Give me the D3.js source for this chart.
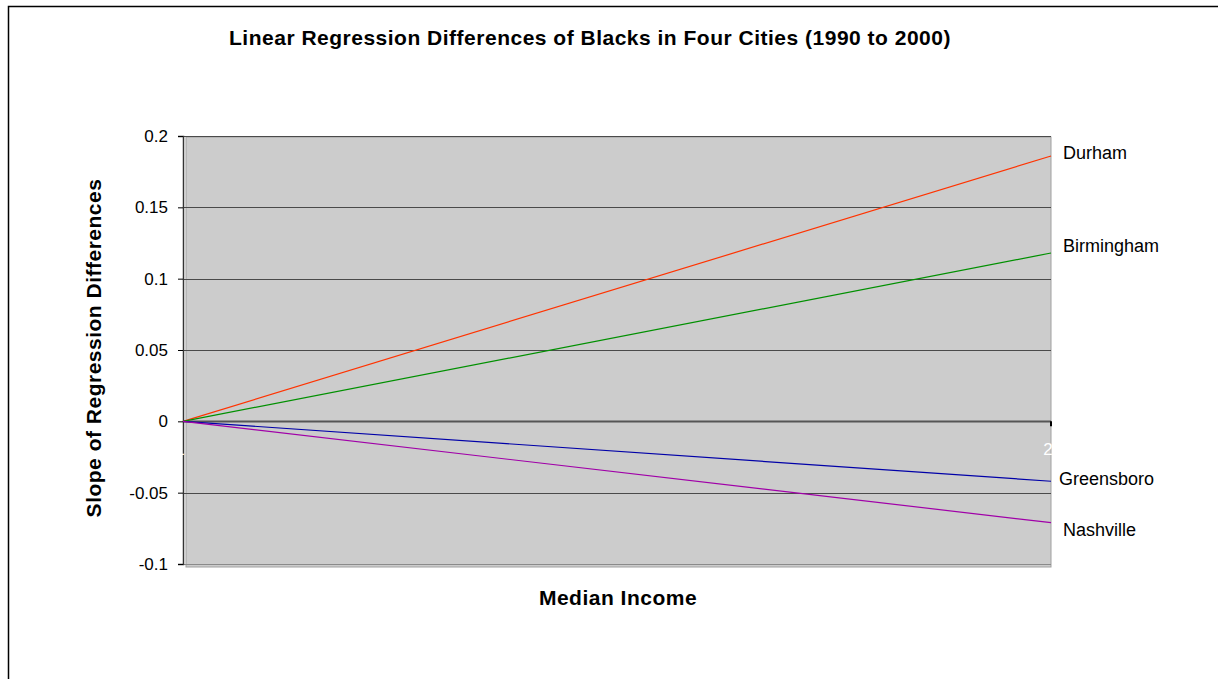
<!DOCTYPE html>
<html>
<head>
<meta charset="UTF-8">
<title>Linear Regression Differences</title>
<script src="https://d3js.org/d3.v7.min.js"></script>
<style>
  body { margin: 0; background: #fff; }
  text { font-family: "Liberation Sans", Arial, sans-serif; }
</style>
</head>
<body>
<div id="chart"></div>
<script>
// data
var years = [1, 2];
var cities = ["Durham", "Birmingham", "Greensboro", "Nashville"];
var slopes = [0.186, 0.118, -0.042, -0.071];
var colors = ["#ff3300", "#009000", "#0000a8", "#a000a8"];
var yTicks = [-0.1, -0.05, 0, 0.05, 0.1, 0.15, 0.2];

var W = 1218, H = 679;
var margin = {top: 136, right: 167, bottom: 115, left: 183};
var width = W - margin.left - margin.right,
    height = H - margin.top - margin.bottom;

var svg = d3.select("#chart").append("svg")
    .attr("width", W)
    .attr("height", H);

// outer frame (left and top edges only visible)
svg.append("path")
    .attr("d", "M8.5,679 V6.5 H1218")
    .attr("fill", "none")
    .attr("stroke", "#000")
    .attr("stroke-width", 1.5);

var g = svg.append("g")
    .attr("transform", "translate(" + margin.left + "," + margin.top + ")");

var x = d3.scaleLinear().domain([1, 2]).range([0, width]);
var y = d3.scaleLinear().domain([-0.1, 0.2]).range([height, 0]);

// plot area
g.append("rect")
    .attr("x", 3).attr("y", 1)
    .attr("width", width - 3).attr("height", height + 2)
    .attr("fill", "#cccccc")
    .attr("stroke", "#a0a0a0")
    .attr("stroke-width", 1);

// gridlines
g.append("g").selectAll("line")
  .data(yTicks)
  .enter().append("line")
    .attr("x1", 0).attr("x2", width)
    .attr("y1", function(d) { return Math.round(y(d)) + 0.5; })
    .attr("y2", function(d) { return Math.round(y(d)) + 0.5; })
    .attr("stroke", function(d) { return d === 0 ? "#555" : (d === -0.1 ? "#8a8a8a" : "#4a4a4a"); })
    .attr("stroke-width", function(d) { return d === 0 ? 2 : 1; });

// y axis
var yAxis = g.append("g")
    .call(d3.axisLeft(y).tickValues(yTicks).tickSize(5).tickPadding(10)
      .tickFormat(function(d) { return String(+d.toFixed(2)); }));
yAxis.select(".domain").attr("stroke", "#333").attr("stroke-width", 1.5);
yAxis.selectAll("text").attr("font-size", 17).attr("fill", "#000")
    .style("font-family", "'Liberation Sans', Arial, sans-serif");

// x category labels (white, as in the original)
g.append("g").selectAll("text")
  .data(years)
  .enter().append("text")
    .attr("x", function(d) { return x(d) - 3; })
    .attr("y", y(0) + 34)
    .attr("text-anchor", "middle")
    .attr("font-size", 17)
    .attr("fill", "#fff")
    .text(function(d) { return d; });

// small tick at right end of zero line
g.append("line")
    .attr("x1", width).attr("x2", width)
    .attr("y1", y(0)).attr("y2", y(0) + 5)
    .attr("stroke", "#000").attr("stroke-width", 2);

// regression lines
var series = cities.map(function(c, i) {
  return {name: c, color: colors[i], values: years.map(function(yr, j) { return {x: yr, y: j === 0 ? 0 : slopes[i]}; })};
});

var line = d3.line()
    .x(function(d) { return x(d.x); })
    .y(function(d) { return y(d.y); });

g.append("g").selectAll("path")
  .data(series)
  .enter().append("path")
    .attr("d", function(d) { return line(d.values); })
    .attr("fill", "none")
    .attr("stroke", function(d) { return d.color; })
    .attr("stroke-width", 1.2);

// end labels
var labelDy = {"Durham": -3, "Birmingham": -7, "Greensboro": -3, "Nashville": 7};
var labelDx = {"Durham": 12, "Birmingham": 12, "Greensboro": 8, "Nashville": 12};
g.append("g").selectAll("text")
  .data(series)
  .enter().append("text")
    .attr("x", function(d) { return width + labelDx[d.name]; })
    .attr("y", function(d) { return y(slopes[cities.indexOf(d.name)]) + labelDy[d.name]; })
    .attr("dy", "0.35em")
    .attr("font-size", 18)
    .attr("fill", "#000")
    .text(function(d) { return d.name; });

// titles
svg.append("text")
    .attr("x", 590).attr("y", 45)
    .attr("text-anchor", "middle")
    .attr("font-size", 21)
    .attr("letter-spacing", 0.5)
    .attr("font-weight", "bold")
    .text("Linear Regression Differences of Blacks in Four Cities (1990 to 2000)");

svg.append("text")
    .attr("x", 618).attr("y", 605)
    .attr("text-anchor", "middle")
    .attr("font-size", 21)
    .attr("letter-spacing", 0.5)
    .attr("font-weight", "bold")
    .text("Median Income");

svg.append("text")
    .attr("transform", "translate(101,348) rotate(-90)")
    .attr("text-anchor", "middle")
    .attr("font-size", 21)
    .attr("letter-spacing", 0.5)
    .attr("font-weight", "bold")
    .text("Slope of Regression Differences");
</script>
</body>
</html>
